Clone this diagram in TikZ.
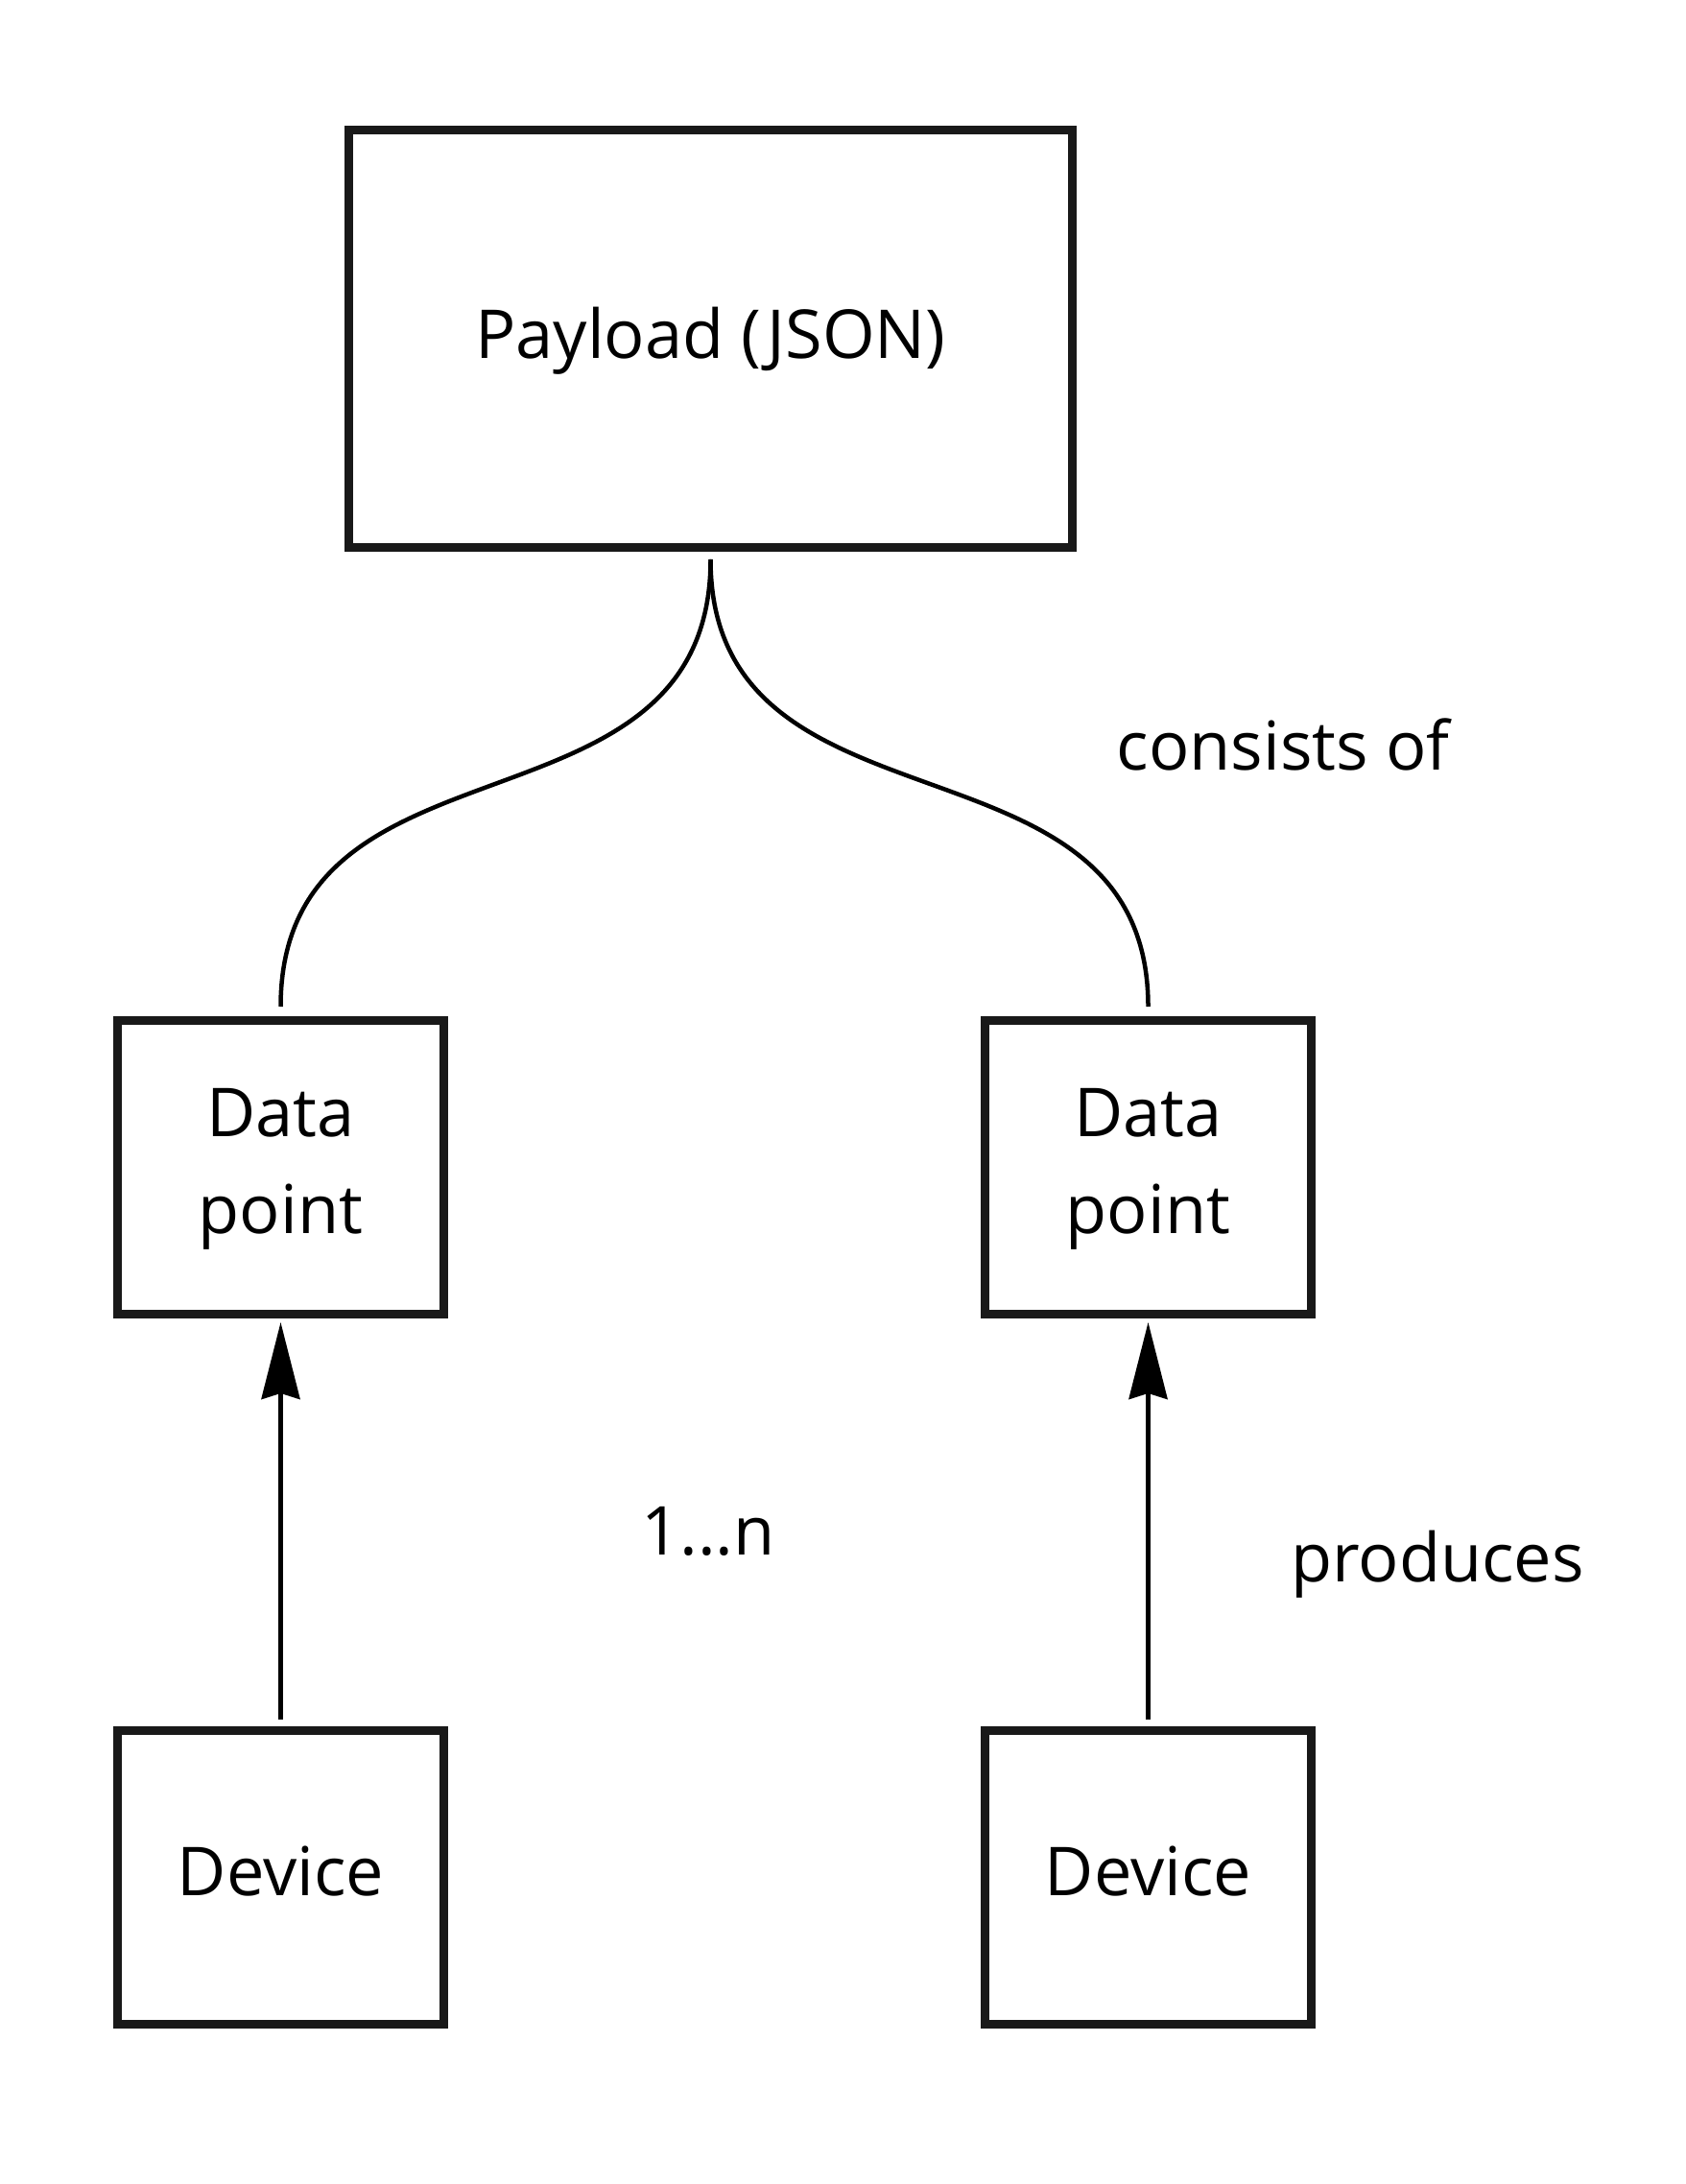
\documentclass[tikz,border=0pt]{standalone}
\usepackage{fontspec}
\setmainfont{Open Sans}
\usetikzlibrary{arrows.meta}

\begin{document}
\begin{tikzpicture}[
        box/.style={draw=black!90, line width=0.09cm, minimum width=3.4cm, minimum height=3.06cm,
            align=center, inner sep=0pt, text depth=0.37em, font=\fontsize{20}{28.7}\selectfont},
        lbl/.style={anchor=base, inner sep=0pt, font=\fontsize{20}{28.7}\selectfont},
        link/.style={line width=0.045cm, shorten <=0.08cm, shorten >=0.1cm},
        produce/.style={line width=0.045cm, shorten <=0.07cm, shorten >=0.04cm,
            -{Stealth[length=0.8cm, width=0.4cm, inset=0.06cm]}}
    ]
        \useasboundingbox (0, 0) rectangle (17.56, -22.76);

        \node[box, minimum width=7.54cm, minimum height=4.35cm] (payload) at (7.405, -3.53) {Payload (JSON)};

        \node[box] (point1) at (2.925, -12.165) {Data\\point};
        \node[box] (point2) at (11.965, -12.165) {Data\\point};
        \node[box] (device1) at (2.925, -19.565) {Device};
        \node[box] (device2) at (11.965, -19.565) {Device};

        \draw[link] (payload.south) .. controls +(0, -3.1) and +(0, 3.1) .. (point1.north);
        \draw[link] (payload.south) .. controls +(0, -3.1) and +(0, 3.1) .. (point2.north);

        \draw[produce] (device1) -- (point1);
        \draw[produce] (device2) -- (point2);

        \node[lbl] (consists) at (13.37, -8.03) {consists of};
        \node[lbl] (card) at (7.38, -16.2) {1...n};
        \node[lbl] (produces) at (14.98, -16.48) {produces};
    \end{tikzpicture}
\end{document}
